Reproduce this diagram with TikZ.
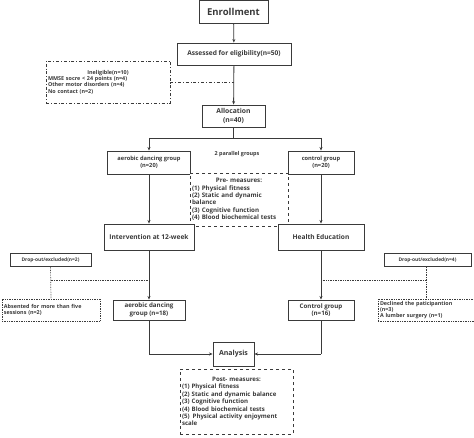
\documentclass[tikz,border=0pt]{standalone}
\usepackage{fontspec}
\setmainfont{Open Sans}
\usetikzlibrary{arrows.meta}
\definecolor{ln}{HTML}{3A3A3A}
\begin{document}
\begin{tikzpicture}[x=1pt,y=-1pt,
  every node/.style={font=\bfseries, text=ln, inner sep=1pt, align=center},
  box/.style={draw=ln, line width=0.9pt, fill=white},
  dbox/.style={draw=ln, line width=0.8pt, dashed, fill=white},
  dotbox/.style={draw=ln, line width=0.7pt, densely dotted, fill=white},
  thin box/.style={draw=ln, line width=0.7pt, fill=white},
  ddbox/.style={draw=ln, line width=0.7pt, dash dot, fill=white},
  arr/.style={draw=ln, line width=0.8pt, -{Stealth[length=3.5pt,width=3pt]}},
  con/.style={draw=ln, line width=0.8pt},
  dcon/.style={draw=ln, line width=0.7pt, densely dotted},
  ddcon/.style={draw=ln, line width=0.7pt, dash dot}]
\useasboundingbox (0,0) rectangle (474,438);
\fill[white] (0,0) rectangle (474,438);

\node[box, minimum width=69pt, minimum height=23pt, font=\bfseries\fontsize{9.5}{12}\selectfont] (enroll) at (233.5,12) {Enrollment};
\node[box, minimum width=114pt, minimum height=22pt, font=\bfseries\fontsize{6.6}{8}\selectfont] (assess) at (234,54) {Assessed for eligibility(n=50)};
\node[ddbox, minimum width=124pt, minimum height=42pt, text width=120pt, align=left, font=\bfseries\fontsize{5.4}{6.4}\selectfont] (inel) at (108,82) {\centering Ineligible(n=10)\par\raggedright MMSE socre < 24 points (n=4)\\Other motor disorders (n=4)\\No contact (n=2)\par};
\node[box, minimum width=63pt, minimum height=22pt, font=\bfseries\fontsize{6.8}{8.5}\selectfont] (alloc) at (233.5,116) {Allocation\\(n=40)};

\node[font=\bfseries\fontsize{5.4}{7}\selectfont] (par) at (237,154) {2 parallel groups};
\node[box, minimum width=83pt, minimum height=23pt, font=\bfseries\fontsize{5.7}{7.2}\selectfont] (aero) at (149,162.5) {aerobic dancing group\\(n=20)};
\node[box, minimum width=66pt, minimum height=23pt, font=\bfseries\fontsize{5.7}{7.2}\selectfont] (ctrl) at (321,162.5) {control group\\(n=20)};
\node[dbox, minimum width=98pt, minimum height=53pt, text width=94pt, align=left, font=\bfseries\fontsize{6.2}{7.4}\selectfont] (pre) at (239,199.5) {\centering Pre- measures:\par\raggedright (1) Physical fitness\\(2) Static and dynamic\\balance\\(3) Cognitive function\\(4) Blood biochemical tests\par};

\node[box, minimum width=90pt, minimum height=26pt, font=\bfseries\fontsize{6.6}{8}\selectfont] (interv) at (149,237) {Intervention at 12-week};
\node[box, minimum width=86pt, minimum height=26pt, font=\bfseries\fontsize{6.6}{8}\selectfont] (health) at (321,237) {Health Education};

\node[thin box, minimum width=81pt, minimum height=13pt, font=\bfseries\fontsize{4.9}{6}\selectfont] (dropl) at (50.5,260) {Drop-out/excluded(n=2)};
\node[thin box, minimum width=87pt, minimum height=13pt, font=\bfseries\fontsize{4.9}{6}\selectfont] (dropr) at (427.5,260) {Drop-out/excluded(n=4)};

\node[dotbox, minimum width=98pt, minimum height=22pt, text width=94pt, align=left, font=\bfseries\fontsize{5.4}{6.4}\selectfont] (abs) at (51,310) {Absented for more than five\\sessions (n=2)};
\node[dotbox, minimum width=96pt, minimum height=22pt, text width=92pt, align=left, font=\bfseries\fontsize{5.4}{6.4}\selectfont] (decl) at (426,310) {Declined the paticipantion\\(n=3)\\A lumber surgery (n=1)};

\node[box, minimum width=72pt, minimum height=20pt, font=\bfseries\fontsize{6.2}{7.5}\selectfont] (aero18) at (149,310) {aerobic dancing\\group (n=18)};
\node[box, minimum width=66pt, minimum height=20pt, font=\bfseries\fontsize{6.2}{7.5}\selectfont] (ctrl16) at (321,310) {Control group\\(n=16)};

\node[box, minimum width=41pt, minimum height=24pt, font=\bfseries\fontsize{7}{8.5}\selectfont] (anal) at (233.5,354) {Analysis};
\node[dbox, minimum width=113pt, minimum height=65pt, text width=109pt, align=left, font=\bfseries\fontsize{6.1}{7.4}\selectfont] (post) at (236.5,401.5) {\centering Post- measures:\par\raggedright (1) Physical fitness\\(2) Static and dynamic balance\\(3) Cognitive function\\(4) Blood biochemical tests\\(5)\enspace Physical activity enjoyment\\scale\par};

% connectors
\draw[arr] (enroll) -- (assess);
\draw[arr] (assess) -- (alloc);
\coordinate (ineljoin) at (234,82);
\draw[ddcon] (inel.east |- ineljoin) -- (ineljoin);
\coordinate (split) at (233.5,138);
\draw[con] (alloc.south) -- (split);
\draw[con] (aero.north |- split) -- (ctrl.north |- split);
\draw[arr] (aero.north |- split) -- (aero.north);
\draw[arr] (ctrl.north |- split) -- (ctrl.north);
\draw[arr] (aero) -- (interv);
\draw[arr] (ctrl) -- (health);
\draw[arr] (interv) -- (aero18);
\draw[arr] (health) -- (ctrl16);

\coordinate (jl) at (149,280);
\coordinate (jr) at (321,280);
\draw[dcon] (dropl.south) -- (abs.north);
\draw[dcon] (dropl.south |- jl) -- (jl);
\draw[dcon] (dropr.south -| decl.north) -- (decl.north);
\draw[dcon] (jr) -- (decl.north |- jr);

\coordinate (al) at (149,354);
\coordinate (ar) at (321,354);
\draw[con] (aero18.south) -- (al);
\draw[arr] (al) -- (anal.west);
\draw[con] (ctrl16.south) -- (ar);
\draw[arr] (ar) -- (anal.east);
\end{tikzpicture}
\end{document}
